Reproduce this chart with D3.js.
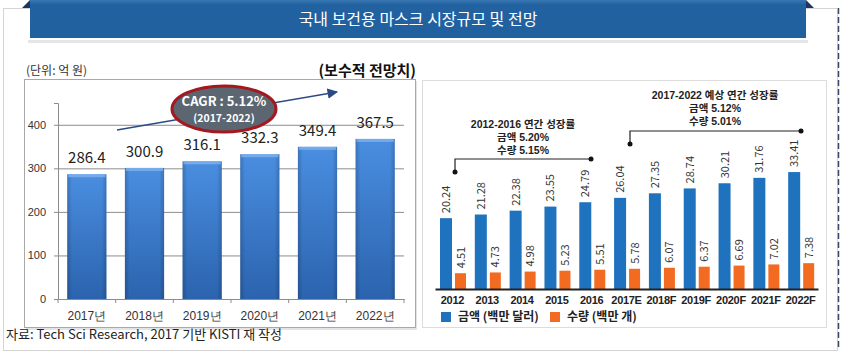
<!DOCTYPE html>
<html><head><meta charset="utf-8">
<script src="https://cdn.jsdelivr.net/npm/d3@7"></script>
<style>
html,body{margin:0;padding:0;background:#fff;}
svg{display:block;font-family:"Noto Sans CJK KR","Noto Sans",sans-serif;}
</style></head>
<body><svg id="c" width="843" height="356"></svg>
<script>
// ---- data ----
const title = "국내 보건용 마스크 시장규모 및 전망";
const leftYears = ["2017년","2018년","2019년","2020년","2021년","2022년"];
const leftValues = [286.4, 300.9, 316.1, 332.3, 349.4, 367.5];
const leftTicks = [0, 100, 200, 300, 400];
const rightYears = ["2012","2013","2014","2015","2016","2017E","2018F","2019F","2020F","2021F","2022F"];
const amountValues = [20.24, 21.28, 22.38, 23.55, 24.79, 26.04, 27.35, 28.74, 30.21, 31.76, 33.41];
const volumeValues = [4.51, 4.73, 4.98, 5.23, 5.51, 5.78, 6.07, 6.37, 6.69, 7.02, 7.38];
const legendLabels = ["금액 (백만 달러)", "수량 (백만 개)"];
const note1 = ["2012-2016 연간 성장률", "금액 5.20%", "수량 5.15%"];
const note2 = ["2017-2022 예상 연간 성장률", "금액 5.12%", "수량 5.01%"];

const svg = d3.select("#c");
const defs = svg.append("defs");

// outer frame
svg.append("rect").attr("x",3.5).attr("y",8.5).attr("width",834).attr("height",342)
  .attr("fill","#fff").attr("stroke","#d4d4d4");
svg.append("line").attr("x1",838.5).attr("x2",838.5).attr("y1",8).attr("y2",350)
  .attr("stroke","#3a4a6a").attr("stroke-width",1.5).attr("stroke-dasharray","6,3");

// banner
const bg = defs.append("linearGradient").attr("id","bn").attr("x1",0).attr("x2",0).attr("y1",0).attr("y2",1);
bg.append("stop").attr("offset","0").attr("stop-color","#3a78b2");
bg.append("stop").attr("offset","0.12").attr("stop-color","#2262a0");
bg.append("stop").attr("offset","1").attr("stop-color","#20609e");
svg.append("rect").attr("x",28).attr("y",40).attr("width",780).attr("height",3).attr("fill","#e6e6e6");
svg.append("path").attr("d","M22,8 L30,0 L30,8 Z").attr("fill","#1d3560");
svg.append("path").attr("d","M806,0 L814,8 L806,8 Z").attr("fill","#1d3560");
svg.append("rect").attr("x",30).attr("y",0).attr("width",776).attr("height",38).attr("fill","url(#bn)");
svg.append("text").attr("x",418).attr("y",25).attr("text-anchor","middle")
  .attr("fill","#fff").attr("font-size",16).text(title);

// ---------- LEFT CHART ----------
svg.append("rect").attr("x",26).attr("y",81).attr("width",391).attr("height",249).attr("fill","#e4e4e4");
svg.append("rect").attr("x",24.5).attr("y",79.5).attr("width",391).attr("height",248)
  .attr("fill","#fff").attr("stroke","#a8a8a8");
svg.append("text").attr("x",26).attr("y",75).attr("font-size",12).attr("fill","#333").text("(단위: 억 원)");
svg.append("text").attr("x",416).attr("y",76).attr("text-anchor","end").attr("font-size",15)
  .attr("font-weight","bold").attr("fill","#111").text("(보수적 전망치)");

const xL = d3.scaleBand().domain(leftYears).range([58,404]).paddingInner(0.32).paddingOuter(0.16);
const yL = d3.scaleLinear().domain([0,450]).range([299,103]);

const gL = svg.append("g");
gL.selectAll(".grid").data(leftTicks.filter(d=>d>0)).join("line")
  .attr("x1",58).attr("x2",404).attr("y1",d=>yL(d)+0.5).attr("y2",d=>yL(d)+0.5)
  .attr("stroke","#8c8c8c").attr("stroke-width",1);
gL.append("g").attr("transform","translate(58,0)")
  .call(d3.axisLeft(yL).tickValues(leftTicks).tickSize(4).tickPadding(8))
  .call(g=>{g.select(".domain").attr("stroke","#8c8c8c");
    g.selectAll("line").attr("stroke","#8c8c8c");
    g.selectAll("text").attr("font-size",11).attr("fill","#333").attr("font-family","Liberation Sans, Arial, sans-serif");});
gL.append("g").attr("transform","translate(0,299)")
  .call(d3.axisBottom(xL).tickSize(0).tickPadding(12))
  .call(g=>{g.select(".domain").attr("stroke","#8c8c8c");
    g.selectAll("text").attr("font-size",12).attr("fill","#333");});
gL.selectAll(".bt").data(d3.range(leftYears.length+1)).join("line")
  .attr("x1",d=>58+d*xL.step()).attr("x2",d=>58+d*xL.step())
  .attr("y1",299).attr("y2",303).attr("stroke","#8c8c8c");

const lg = defs.append("linearGradient").attr("id","lb").attr("x1",0).attr("x2",0).attr("y1",0).attr("y2",1);
lg.append("stop").attr("offset","0").attr("stop-color","#4a8ee0");
lg.append("stop").attr("offset","1").attr("stop-color","#2b63ae");
const lh = defs.append("linearGradient").attr("id","lh").attr("x1",0).attr("x2",1).attr("y1",0).attr("y2",0);
lh.append("stop").attr("offset","0").attr("stop-color","#000").attr("stop-opacity",0.18);
lh.append("stop").attr("offset","0.12").attr("stop-color","#000").attr("stop-opacity",0);
lh.append("stop").attr("offset","0.88").attr("stop-color","#000").attr("stop-opacity",0);
lh.append("stop").attr("offset","1").attr("stop-color","#000").attr("stop-opacity",0.18);

const bars = gL.selectAll(".lb").data(leftValues).join("g");
bars.append("rect").attr("x",(d,i)=>xL(leftYears[i])).attr("y",d=>yL(d))
  .attr("width",xL.bandwidth()).attr("height",d=>yL(0)-yL(d)).attr("fill","url(#lb)");
bars.append("rect").attr("x",(d,i)=>xL(leftYears[i])).attr("y",d=>yL(d))
  .attr("width",xL.bandwidth()).attr("height",d=>yL(0)-yL(d)).attr("fill","url(#lh)");
bars.append("rect").attr("x",(d,i)=>xL(leftYears[i])+1).attr("y",d=>yL(d))
  .attr("width",xL.bandwidth()-2).attr("height",3).attr("fill","#7fb2ee").attr("opacity",0.8);
bars.append("text").attr("x",(d,i)=>xL(leftYears[i])+xL.bandwidth()/2).attr("y",d=>yL(d)-11)
  .attr("text-anchor","middle").attr("font-size",15).attr("fill","#222")
  .text(d=>d.toFixed(1));

// arrow + CAGR ellipse
defs.append("marker").attr("id","ah").attr("viewBox","0 0 10 10").attr("refX",9).attr("refY",5)
  .attr("markerWidth",7).attr("markerHeight",7).attr("orient","auto")
  .append("path").attr("d","M0,0 L10,5 L0,10 Z").attr("fill","#2a4a85");
svg.append("line").attr("x1",117).attr("y1",130).attr("x2",337).attr("y2",92)
  .attr("stroke","#2a4a85").attr("stroke-width",1.5).attr("marker-end","url(#ah)");
svg.append("ellipse").attr("cx",224).attr("cy",109).attr("rx",52).attr("ry",23)
  .attr("fill","#5b6671").attr("stroke","#a3191f").attr("stroke-width",3);
svg.append("text").attr("x",224).attr("y",106).attr("text-anchor","middle").attr("fill","#fff")
  .attr("font-size",13).attr("font-weight","bold").text("CAGR : 5.12%");
svg.append("text").attr("x",224).attr("y",122).attr("text-anchor","middle").attr("fill","#fff")
  .attr("font-size",10.5).attr("font-weight","bold").text("(2017-2022)");

// footer
svg.append("text").attr("x",6).attr("y",339).attr("font-size",13).attr("fill","#222")
  .text("자료: Tech Sci Research, 2017 기반 KISTI 재 작성");

// ---------- RIGHT CHART ----------
svg.append("rect").attr("x",422.5).attr("y",80.5).attr("width",404).attr("height",247)
  .attr("fill","#fff").attr("stroke","#dcdcdc");

const xR = d3.scaleBand().domain(rightYears).range([435,818]);
const yR = d3.scaleLinear().domain([0,40]).range([289,149]);
const bw = 12;
const gR = svg.append("g");
gR.selectAll(".ba").data(amountValues).join("rect")
  .attr("x",(d,i)=>xR(rightYears[i])+5).attr("y",d=>yR(d)).attr("width",bw)
  .attr("height",d=>yR(0)-yR(d)).attr("fill","#1f73be");
gR.selectAll(".bv").data(volumeValues).join("rect")
  .attr("x",(d,i)=>xR(rightYears[i])+20).attr("y",d=>yR(d)).attr("width",bw-1)
  .attr("height",d=>yR(0)-yR(d)).attr("fill","#f26b21");
gR.selectAll(".ta").data(amountValues).join("text")
  .attr("transform",(d,i)=>`translate(${xR(rightYears[i])+5+bw/2+4},${yR(d)-5}) rotate(-90)`)
  .attr("font-size",11).attr("fill","#333").text(d=>d.toFixed(2));
gR.selectAll(".tv").data(volumeValues).join("text")
  .attr("transform",(d,i)=>`translate(${xR(rightYears[i])+20+(bw-1)/2+4},${yR(d)-5}) rotate(-90)`)
  .attr("font-size",11).attr("fill","#333").text(d=>d.toFixed(2));
gR.append("g").attr("transform","translate(0,289)")
  .call(d3.axisBottom(xR).tickSize(0).tickPadding(7))
  .call(g=>{g.select(".domain").attr("stroke","#222").attr("stroke-width",2);
    g.selectAll("text").attr("font-size",11).attr("font-weight","bold").attr("fill","#222")
      .attr("letter-spacing",-0.3);});

// legend
svg.append("rect").attr("x",441).attr("y",312).attr("width",10).attr("height",10).attr("fill","#1f73be");
svg.append("text").attr("x",458).attr("y",321).attr("font-size",12).attr("font-weight","bold").attr("fill","#222").text(legendLabels[0]);
svg.append("rect").attr("x",550).attr("y",312).attr("width",10).attr("height",10).attr("fill","#f26b21");
svg.append("text").attr("x",567).attr("y",321).attr("font-size",12).attr("font-weight","bold").attr("fill","#222").text(legendLabels[1]);

// annotations
function note(lines, cx, ty, x1, x2, yh, yd){
  lines.forEach((t,i)=>svg.append("text").attr("x",cx).attr("y",ty+i*13).attr("text-anchor","middle")
    .attr("font-family","'Liberation Sans','Noto Sans CJK KR',sans-serif")
    .attr("font-size",10.5).attr("font-weight","bold").attr("fill","#222").text(t));
  svg.append("path").attr("d",`M${x1},${yd} L${x1},${yh} L${x2},${yh}`).attr("fill","none")
    .attr("stroke","#222").attr("stroke-width",1.2);
  svg.append("circle").attr("cx",x1).attr("cy",yd).attr("r",2.5).attr("fill","#111");
  svg.append("circle").attr("cx",x2).attr("cy",yh).attr("r",2.5).attr("fill","#111");
}
note(note1, 523, 128, 455, 591, 159, 172);
note(note2, 715, 99, 630, 801, 131, 144);
</script></body></html>
